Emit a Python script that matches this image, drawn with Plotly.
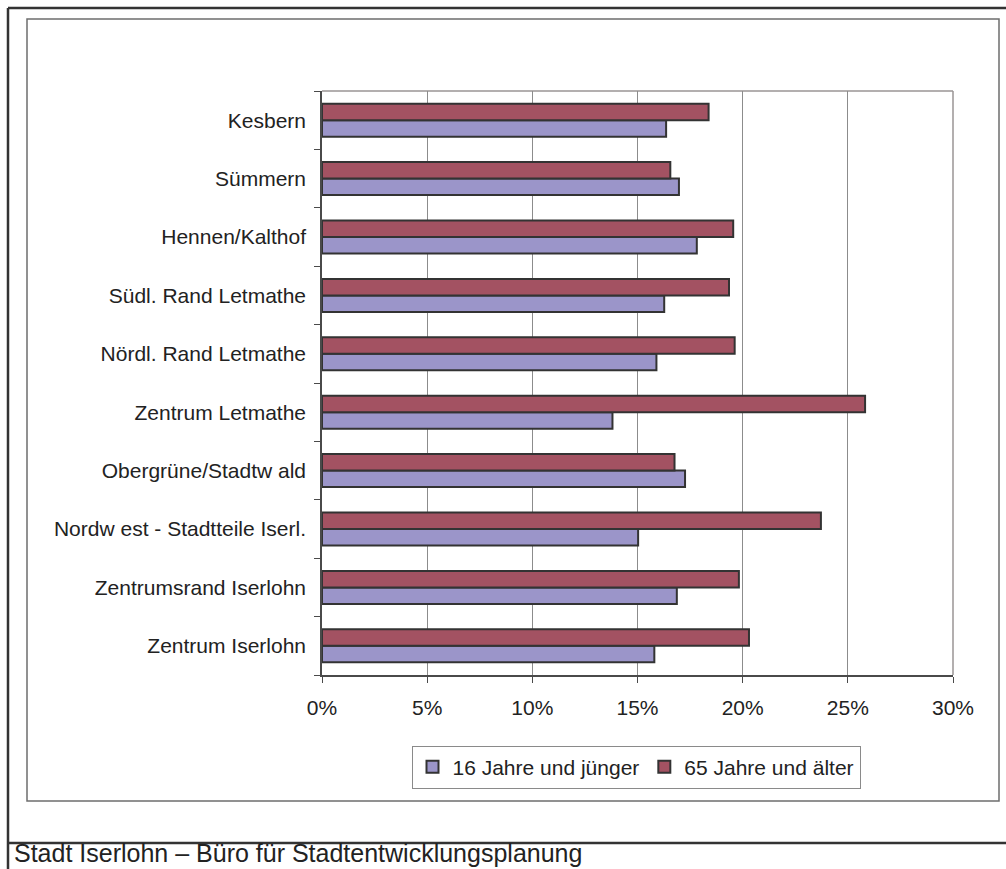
import plotly.graph_objects as go

# Data (bottom to top)
categories = ["Zentrum Iserlohn", "Zentrumsrand Iserlohn", "Nordw est - Stadtteile Iserl.",
              "Obergrüne/Stadtw ald", "Zentrum Letmathe", "Nördl. Rand Letmathe",
              "Südl. Rand Letmathe", "Hennen/Kalthof", "Sümmern", "Kesbern"]
young = [15.8, 16.87, 15.03, 17.26, 13.81, 15.9, 16.27, 17.82, 16.97, 16.36]
old = [20.3, 19.82, 23.72, 16.76, 25.82, 19.62, 19.35, 19.55, 16.56, 18.38]
series_names = ["16 Jahre und jünger", "65 Jahre und älter"]
x_ticks = [0, 5, 10, 15, 20, 25, 30]
footer = "Stadt Iserlohn – Büro für Stadtentwicklungsplanung"

W, H = 1006, 869
def px(x):
    return x / W
def py(y):
    return 1 - y / H

FONT = "Liberation Sans, Arial, sans-serif"
TXT = "#222222"

fig = go.Figure()
fig.add_trace(go.Bar(y=categories, x=young, orientation="h", name=series_names[0],
                     marker=dict(color="#9b95c9", line=dict(color="#333333", width=2))))
fig.add_trace(go.Bar(y=categories, x=old, orientation="h", name=series_names[1],
                     marker=dict(color="#a35262", line=dict(color="#333333", width=2))))

x0, x1 = px(322), px(953)
y0, y1 = py(675), py(91)

shapes = [
    dict(type="rect", xref="paper", yref="paper", x0=px(27), x1=px(999), y0=py(801), y1=py(19),
         line=dict(color="#6e6e6e", width=1.5)),
    dict(type="line", xref="paper", yref="paper", x0=px(8), x1=1, y0=py(8), y1=py(8),
         line=dict(color="#333333", width=2.5)),
    dict(type="line", xref="paper", yref="paper", x0=px(8), x1=px(8), y0=py(8), y1=0,
         line=dict(color="#333333", width=2.5)),
    dict(type="line", xref="paper", yref="paper", x0=px(8), x1=1, y0=py(843), y1=py(843),
         line=dict(color="#333333", width=2.5)),
    dict(type="line", xref="paper", yref="paper", x0=x0, x1=x1, y0=y1, y1=y1,
         line=dict(color="#9a9494", width=1.5), layer="below"),
    dict(type="line", xref="paper", yref="paper", x0=x1, x1=x1, y0=y0, y1=y1,
         line=dict(color="#9a9494", width=1.5), layer="below"),
]

fig.update_layout(
    width=W, height=H,
    margin=dict(l=0, r=0, t=0, b=0, pad=0, autoexpand=False),
    paper_bgcolor="white", plot_bgcolor="white",
    barmode="group", bargap=0.435, bargroupgap=0,
    font=dict(family=FONT, size=20, color=TXT),
    showlegend=True,
    legend=dict(orientation="h", x=px(636), xanchor="center", y=py(767), yanchor="middle",
                traceorder="normal", bordercolor="#8a8a8a", borderwidth=1, bgcolor="white",
                font=dict(size=21, family=FONT, color=TXT), itemwidth=30),
    shapes=shapes,
    xaxis=dict(domain=[x0, x1], range=[0, 30], tickvals=x_ticks,
               ticktext=[f"{v}%" for v in x_ticks], showgrid=True, gridcolor="#8c8c8c",
               gridwidth=1, showline=True, linecolor="#4a4a4a", linewidth=1.5,
               ticks="outside", ticklen=6, tickcolor="#4a4a4a", tickwidth=1,
               tickfont=dict(size=21, family=FONT, color=TXT), ticklabelstandoff=7,
               zeroline=False, fixedrange=True, automargin=False),
    yaxis=dict(domain=[y0, y1], type="category", categoryorder="array", categoryarray=categories,
               showline=True, linecolor="#4a4a4a", linewidth=1.5,
               ticks="outside", ticklen=6, tickcolor="#4a4a4a", tickwidth=1,
               tickson="boundaries", showgrid=False,
               tickfont=dict(size=21, family=FONT, color=TXT), ticklabelstandoff=10,
               fixedrange=True, automargin=False),
    annotations=[dict(text=footer, xref="paper", yref="paper", x=px(12), y=py(853),
                      xanchor="left", yanchor="middle", showarrow=False,
                      font=dict(size=25, family=FONT, color=TXT))],
)

fig.write_html("out.html", config={"displayModeBar": False},
               post_script="document.body.style.margin='0';document.body.style.overflow='hidden';")
